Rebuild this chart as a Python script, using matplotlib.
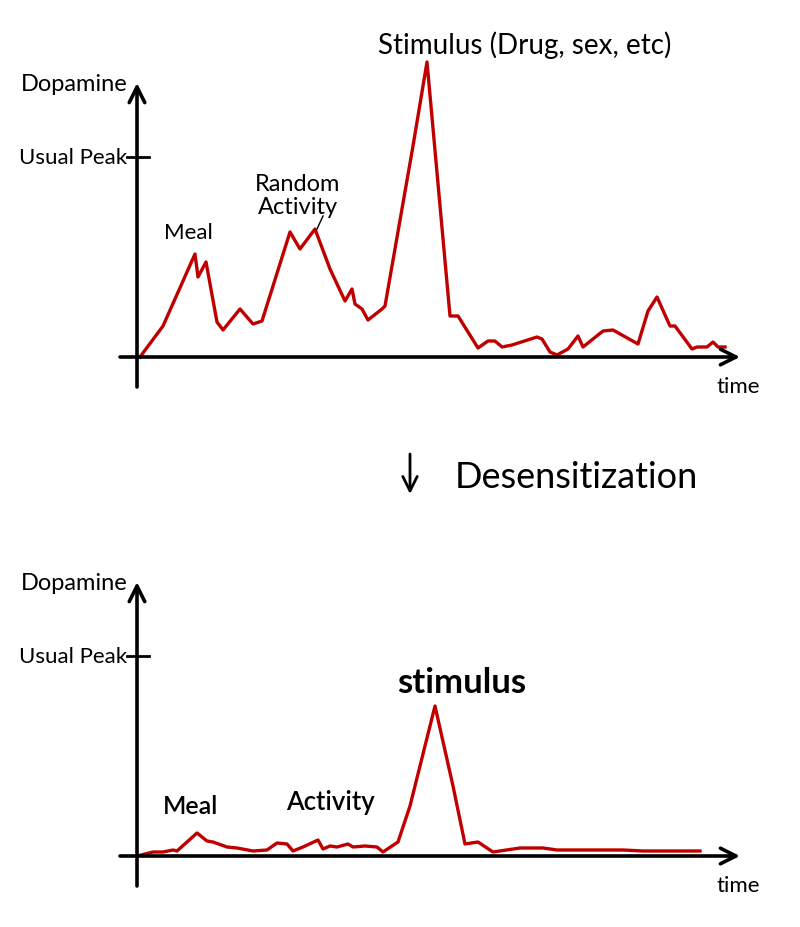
import matplotlib
matplotlib.use("Agg")
import matplotlib.pyplot as plt

# ---- data (time units, dopamine level; usual peak = 100) ----
normal_t = [3, 26, 58, 61, 69, 80, 86, 103, 116, 125, 153, 163, 178, 193, 208, 215, 218,
            225, 231, 245, 248, 276, 290, 313, 321, 341, 351, 358, 365, 375, 400, 405,
            413, 420, 431, 441, 446, 466, 476, 501, 511, 520, 533, 538, 555, 560, 570,
            576, 581, 588]
normal_d = [0, 15.5, 51.5, 40, 47.5, 17.5, 13.5, 24, 16.5, 18, 62.5, 54, 64, 44, 28, 34,
            26.5, 24, 18.5, 24, 25.5, 105.5, 147.5, 20.5, 20.5, 4.5, 8, 8, 5, 6, 10, 9,
            2.5, 1, 4, 10.5, 5, 13, 13.5, 6.5, 23, 30, 15.5, 15.5, 4, 5, 5, 7.5, 5, 5]

desens_t = [0, 16, 26, 36, 40, 60, 70, 76, 90, 100, 116, 130, 140, 150, 156, 166, 181,
            186, 193, 200, 211, 216, 228, 240, 246, 261, 273, 298, 316, 328, 341, 356,
            383, 406, 420, 486, 506, 563]
desens_d = [0, 2, 2, 3, 2.5, 11.5, 7.5, 7, 4.5, 4, 2.5, 3, 6.5, 6, 2.5, 4.5, 8, 3.5, 5,
            4.5, 6, 4.5, 5, 4.5, 2, 7, 25, 75, 35, 6, 7, 2, 4, 4, 3, 3, 2.5, 2.5]

usual_peak = 100
y_label = "Dopamine"
peak_label = "Usual Peak"
x_label = "time"
top_notes = [("Meal", 51, 62.5, 16), ("Random\nActivity", 161, 81, 17),
             ("Stimulus (Drug, sex, etc)", 388, 156.5, 20)]
bottom_notes = [("Meal", 54, 25, 18), ("Activity", 193, 27, 18.5)]
bottom_stim = ("stimulus", 325, 87)
middle_text = "Desensitization"

RED = "#c00000"
FONT = "Lato"

fig = plt.figure(figsize=(8, 9.28), dpi=100)
ax1 = fig.add_axes([0, 0.5, 1, 0.5])
ax2 = fig.add_axes([0, 0.0, 1, 0.5])
ax1.set_xlim(-137, 663)
ax1.set_ylim(-53, 179)
ax2.set_xlim(-137, 663)
ax2.set_ylim(-35.5, 196.5)


def draw_axes(ax):
    ax.axis("off")
    arrow = dict(arrowstyle="->", lw=2.6, color="black", mutation_scale=28,
                 shrinkA=0, shrinkB=0)
    ax.annotate("", xy=(0, 137), xytext=(0, -15), arrowprops=arrow)
    ax.annotate("", xy=(603, 0), xytext=(-17, 0), arrowprops=arrow)
    ax.plot([-10, 12], [usual_peak, usual_peak], color="black", lw=2)
    ax.text(-63, 137, y_label, ha="center", va="center", fontsize=17,
            family=FONT, color="black")
    ax.text(-64, usual_peak, peak_label, ha="center", va="center", fontsize=16,
            family=FONT, color="black")
    ax.text(601, -14.5, x_label, ha="center", va="center", fontsize=16,
            family=FONT, color="black")


draw_axes(ax1)
draw_axes(ax2)

ax1.plot(normal_t, normal_d, color=RED, lw=2.4, solid_joinstyle="round")
ax2.plot(desens_t, desens_d, color=RED, lw=2.4, solid_joinstyle="round")

for txt, x, y, fs in top_notes:
    ax1.text(x, y, txt, ha="center", va="center", fontsize=fs, family=FONT,
             linespacing=1.15, color="black")
ax1.plot([186, 180], [70.5, 64], color="black", lw=1)

for txt, x, y, fs in bottom_notes:
    ax2.text(x, y, txt, ha="center", va="center", fontsize=fs, family=FONT,
             weight="semibold", color="black")
ax2.text(bottom_stim[1], bottom_stim[2], bottom_stim[0], ha="center", va="center",
         fontsize=25, family=FONT, weight="bold", color="black")

fig.add_artist(matplotlib.patches.FancyArrowPatch(
    (410 / 800, 1 - 455 / 928), (410 / 800, 1 - 495 / 928),
    transform=fig.transFigure, arrowstyle="->", lw=2, color="black",
    mutation_scale=26, shrinkA=0, shrinkB=0))
fig.text(455 / 800, 1 - 478 / 928, middle_text, ha="left", va="center",
         fontsize=26, family=FONT, color="black")

fig.savefig("out.png", dpi=100, facecolor="white")
